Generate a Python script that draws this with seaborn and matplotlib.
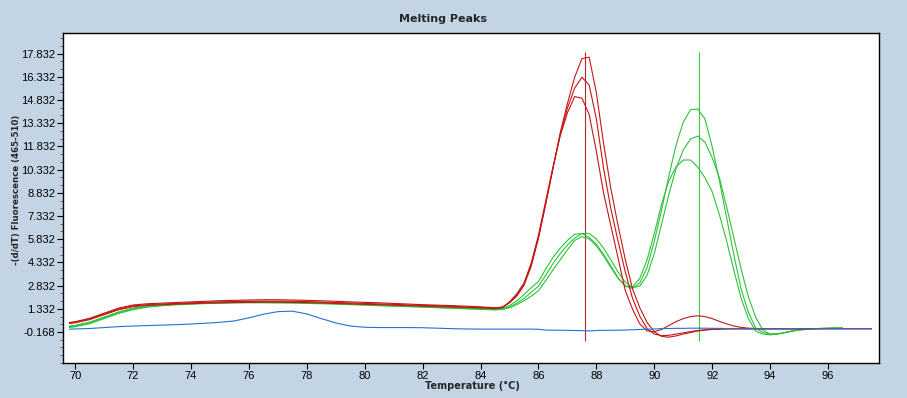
"""Melting peaks chart: -(d/dT) fluorescence vs temperature for a few samples."""
import matplotlib
matplotlib.use("Agg")
import matplotlib.pyplot as plt
from matplotlib.ticker import FixedLocator, FuncFormatter, MultipleLocator
import numpy as np
import pandas as pd
import seaborn as sns

# temperature grid the curves were read at (deg C)
temps = [
    69.8, 70.0, 70.5, 71.0, 71.5, 72.0, 72.5, 73.0, 73.5, 74.0,
    74.5, 75.0, 75.5, 76.0, 76.5, 77.0, 77.5, 78.0, 78.5, 79.0,
    79.5, 80.0, 80.5, 81.0, 81.5, 82.0, 82.5, 83.0, 83.5, 84.0,
    84.25, 84.5, 84.75, 85.0, 85.25, 85.5, 85.75, 86.0, 86.25, 86.5,
    86.75, 87.0, 87.25, 87.5, 87.75, 88.0, 88.25, 88.5, 88.75, 89.0,
    89.25, 89.5, 89.75, 90.0, 90.25, 90.5, 90.75, 91.0, 91.25, 91.5,
    91.75, 92.0, 92.25, 92.5, 92.75, 93.0, 93.25, 93.5, 93.75, 94.0,
    94.25, 94.5, 94.75, 95.0,
    95.5, 96.0, 96.5, 97.0, 97.5,
]

blue = [
    0.02, 0.03, 0.06, 0.12, 0.18, 0.22, 0.25, 0.28, 0.31, 0.35,
    0.40, 0.46, 0.55, 0.75, 0.98, 1.15, 1.18, 1.00, 0.70, 0.42,
    0.22, 0.14, 0.12, 0.12, 0.12, 0.11, 0.08, 0.05, 0.03, 0.02,
    0.02, 0.02, 0.02, 0.02, 0.02, 0.02, 0.02, 0.01, -0.04, -0.05,
    -0.05, -0.06, -0.07, -0.08, -0.10, -0.07, -0.06, -0.05, -0.05, -0.04,
    -0.02, 0.00, 0.01, 0.03, 0.05, 0.06, 0.07, 0.07, 0.08, 0.08,
    0.08, 0.07, 0.07, 0.06, 0.06, 0.05, 0.05, 0.05, 0.05, 0.05,
    0.05, 0.05, 0.05, 0.05,
    0.05, 0.05, 0.05, 0.05, 0.05,
]

red_1 = [
    0.45, 0.50, 0.72, 1.05, 1.38, 1.58, 1.66, 1.70, 1.74, 1.78,
    1.82, 1.86, 1.88, 1.90, 1.92, 1.92, 1.90, 1.88, 1.85, 1.82,
    1.78, 1.75, 1.72, 1.68, 1.64, 1.60, 1.57, 1.54, 1.50, 1.46,
    1.43, 1.40, 1.45, 1.72, 2.15, 2.85, 4.10, 5.90, 8.10, 10.4,
    12.7, 14.6, 16.3, 17.5, 17.6, 15.3, 12.0, 9.10, 6.70, 4.50,
    2.60, 1.40, 0.45, -0.15, -0.45, -0.50, -0.42, -0.30, -0.20, -0.10,
    -0.04, 0.00, 0.02, 0.03, 0.04, 0.04, 0.04, 0.04, 0.04, 0.04,
    0.04, 0.04, 0.04, 0.04,
    0.05, 0.05, 0.05, 0.05, 0.05,
]

red_2 = [
    0.42, 0.47, 0.68, 1.00, 1.32, 1.52, 1.60, 1.64, 1.68, 1.72,
    1.75, 1.78, 1.80, 1.82, 1.83, 1.83, 1.82, 1.80, 1.77, 1.74,
    1.71, 1.68, 1.65, 1.62, 1.58, 1.55, 1.52, 1.49, 1.45, 1.42,
    1.40, 1.37, 1.42, 1.75, 2.20, 2.90, 4.15, 5.95, 8.15, 10.4,
    12.6, 14.3, 15.6, 16.3, 15.8, 13.6, 10.4, 7.80, 5.70, 3.70,
    2.00, 0.85, 0.05, -0.30, -0.40, -0.38, -0.30, -0.22, -0.14, -0.07,
    -0.02, 0.01, 0.03, 0.04, 0.04, 0.04, 0.04, 0.04, 0.04, 0.04,
    0.04, 0.04, 0.04, 0.04,
    0.05, 0.05, 0.05, 0.05, 0.05,
]

red_3 = [
    0.38, 0.43, 0.63, 0.95, 1.27, 1.47, 1.56, 1.60, 1.64, 1.67,
    1.70, 1.72, 1.74, 1.75, 1.76, 1.76, 1.75, 1.73, 1.71, 1.68,
    1.65, 1.62, 1.60, 1.57, 1.54, 1.51, 1.48, 1.45, 1.42, 1.39,
    1.37, 1.35, 1.40, 1.78, 2.30, 3.00, 4.30, 6.10, 8.30, 10.5,
    12.5, 14.0, 15.05, 14.95, 13.9, 11.5, 8.80, 6.70, 4.60, 2.50,
    1.30, 0.35, -0.10, -0.15, 0.00, 0.25, 0.50, 0.70, 0.83, 0.88,
    0.83, 0.70, 0.52, 0.36, 0.22, 0.13, 0.08, 0.06, 0.05, 0.05,
    0.05, 0.05, 0.05, 0.05,
    0.05, 0.05, 0.05, 0.05, 0.05,
]

green_1 = [
    0.22, 0.27, 0.47, 0.80, 1.13, 1.38, 1.52, 1.60, 1.66, 1.70,
    1.74, 1.77, 1.79, 1.80, 1.80, 1.79, 1.78, 1.76, 1.73, 1.70,
    1.66, 1.62, 1.58, 1.55, 1.52, 1.49, 1.45, 1.42, 1.38, 1.35,
    1.33, 1.31, 1.36, 1.55, 1.85, 2.25, 2.70, 3.10, 3.90, 4.65,
    5.25, 5.75, 6.15, 6.20, 5.95, 5.50, 4.85, 4.10, 3.35, 2.80,
    2.65, 3.00, 4.00, 5.70, 7.70, 9.90, 11.9, 13.4, 14.2, 14.25,
    13.6, 11.8, 9.60, 7.20, 4.80, 2.60, 1.10, 0.10, -0.20, -0.30,
    -0.28, -0.20, -0.10, -0.02,
    0.05, 0.08, 0.10, np.nan, np.nan,
]

green_2 = [
    0.17, 0.22, 0.42, 0.75, 1.08, 1.33, 1.48, 1.56, 1.62, 1.66,
    1.70, 1.73, 1.75, 1.76, 1.76, 1.75, 1.74, 1.72, 1.70, 1.67,
    1.63, 1.60, 1.56, 1.52, 1.49, 1.46, 1.42, 1.39, 1.35, 1.32,
    1.30, 1.28, 1.31, 1.45, 1.70, 2.00, 2.40, 2.80, 3.50, 4.25,
    4.90, 5.45, 5.90, 6.20, 6.20, 5.85, 5.25, 4.50, 3.70, 3.05,
    2.70, 2.80, 3.50, 4.90, 6.80, 8.70, 10.4, 11.6, 12.3, 12.5,
    12.1, 11.1, 9.80, 7.90, 5.90, 3.90, 2.10, 0.80, -0.05, -0.30,
    -0.30, -0.22, -0.12, -0.04,
    0.05, 0.08, 0.10, np.nan, np.nan,
]

green_3 = [
    0.12, 0.17, 0.37, 0.70, 1.03, 1.28, 1.44, 1.53, 1.59, 1.63,
    1.67, 1.69, 1.71, 1.72, 1.72, 1.71, 1.70, 1.68, 1.66, 1.63,
    1.60, 1.57, 1.53, 1.50, 1.47, 1.44, 1.40, 1.37, 1.33, 1.30,
    1.28, 1.26, 1.29, 1.40, 1.60, 1.85, 2.15, 2.50, 3.15, 3.85,
    4.50, 5.15, 5.75, 6.00, 5.85, 5.40, 4.75, 4.00, 3.30, 2.80,
    2.75, 3.30, 4.50, 6.20, 8.10, 9.60, 10.5, 10.95, 10.95, 10.5,
    9.80, 8.90, 7.40, 5.70, 3.80, 2.00, 0.70, -0.10, -0.30, -0.35,
    -0.30, -0.20, -0.10, -0.03,
    0.04, 0.07, 0.10, np.nan, np.nan,
]

# melting temperature markers
tm_temps = [87.6, 91.56]
tm_colors = ["#B22A1E", "#3CC83C"]

y_ticks = [-0.168, 1.332, 2.832, 4.332, 5.832, 7.332, 8.832, 10.332,
           11.832, 13.332, 14.832, 16.332, 17.832]
x_ticks = [70, 72, 74, 76, 78, 80, 82, 84, 86, 88, 90, 92, 94, 96]

series = {
    "green_1": green_1, "green_2": green_2, "green_3": green_3,
    "red_1": red_1, "red_2": red_2, "red_3": red_3,
    "blue": blue,
}
palette = {
    "green_1": "#2EC23A", "green_2": "#2EC23A", "green_3": "#2EC23A",
    "red_1": "#C41616", "red_2": "#C41616", "red_3": "#C41616",
    "blue": "#2272D2",
}

frames = [pd.DataFrame({"temp": temps, "value": vals, "sample": name})
          for name, vals in series.items()]
df = pd.concat(frames, ignore_index=True).dropna()

sns.set_style("ticks")
plt.rcParams["font.family"] = ["Liberation Sans", "DejaVu Sans"]

bg = "#C3D4E4"
fig = plt.figure(figsize=(9.07, 3.98), dpi=100, facecolor=bg)
ax = fig.add_axes([63 / 907, 1 - 363 / 398, (879 - 63) / 907, (363 - 33) / 398])
ax.set_facecolor("white")

sns.lineplot(data=df, x="temp", y="value", hue="sample", hue_order=list(series),
             palette=palette, estimator=None, sort=False, legend=False,
             linewidth=0.8, ax=ax)

ax.vlines(tm_temps, -0.78, 17.9, colors=tm_colors, linewidth=0.8, zorder=1)

ax.set_xlim(69.58, 97.76)
ax.set_ylim(-2.17, 19.16)
ax.xaxis.set_major_locator(FixedLocator(x_ticks))
ax.yaxis.set_major_locator(FixedLocator(y_ticks))
ax.yaxis.set_minor_locator(MultipleLocator(0.5, offset=-0.168))
ax.yaxis.set_major_formatter(FuncFormatter(lambda v, _: f"{v:.3f}"))
ax.tick_params(axis="both", which="major", length=4, width=0.8, pad=1.5,
               labelsize=8, colors="black", direction="out")
ax.tick_params(axis="y", which="minor", length=2, width=0.6, color="#555555")
for s in ax.spines.values():
    s.set_visible(True)
    s.set_color("black")
    s.set_linewidth(1.0)
ax.set_xlabel("")
ax.set_ylabel("")

fig.text(443 / 907, 1 - 19 / 398, "Melting Peaks", ha="center", va="center",
         fontsize=8, fontweight="bold", family="DejaVu Sans")
fig.text(472 / 907, 1 - 386 / 398, "Temperature (°C)", ha="center", va="center",
         fontsize=7, fontweight="bold", family="DejaVu Sans")
fig.text(17 / 907, 1 - 190 / 398, "-(d/dT) Fluorescence (465-510)", ha="center",
         va="center", rotation=90, fontsize=6.2, fontweight="bold",
         family="DejaVu Sans")

fig.savefig("out.png", dpi=100, facecolor=bg)
